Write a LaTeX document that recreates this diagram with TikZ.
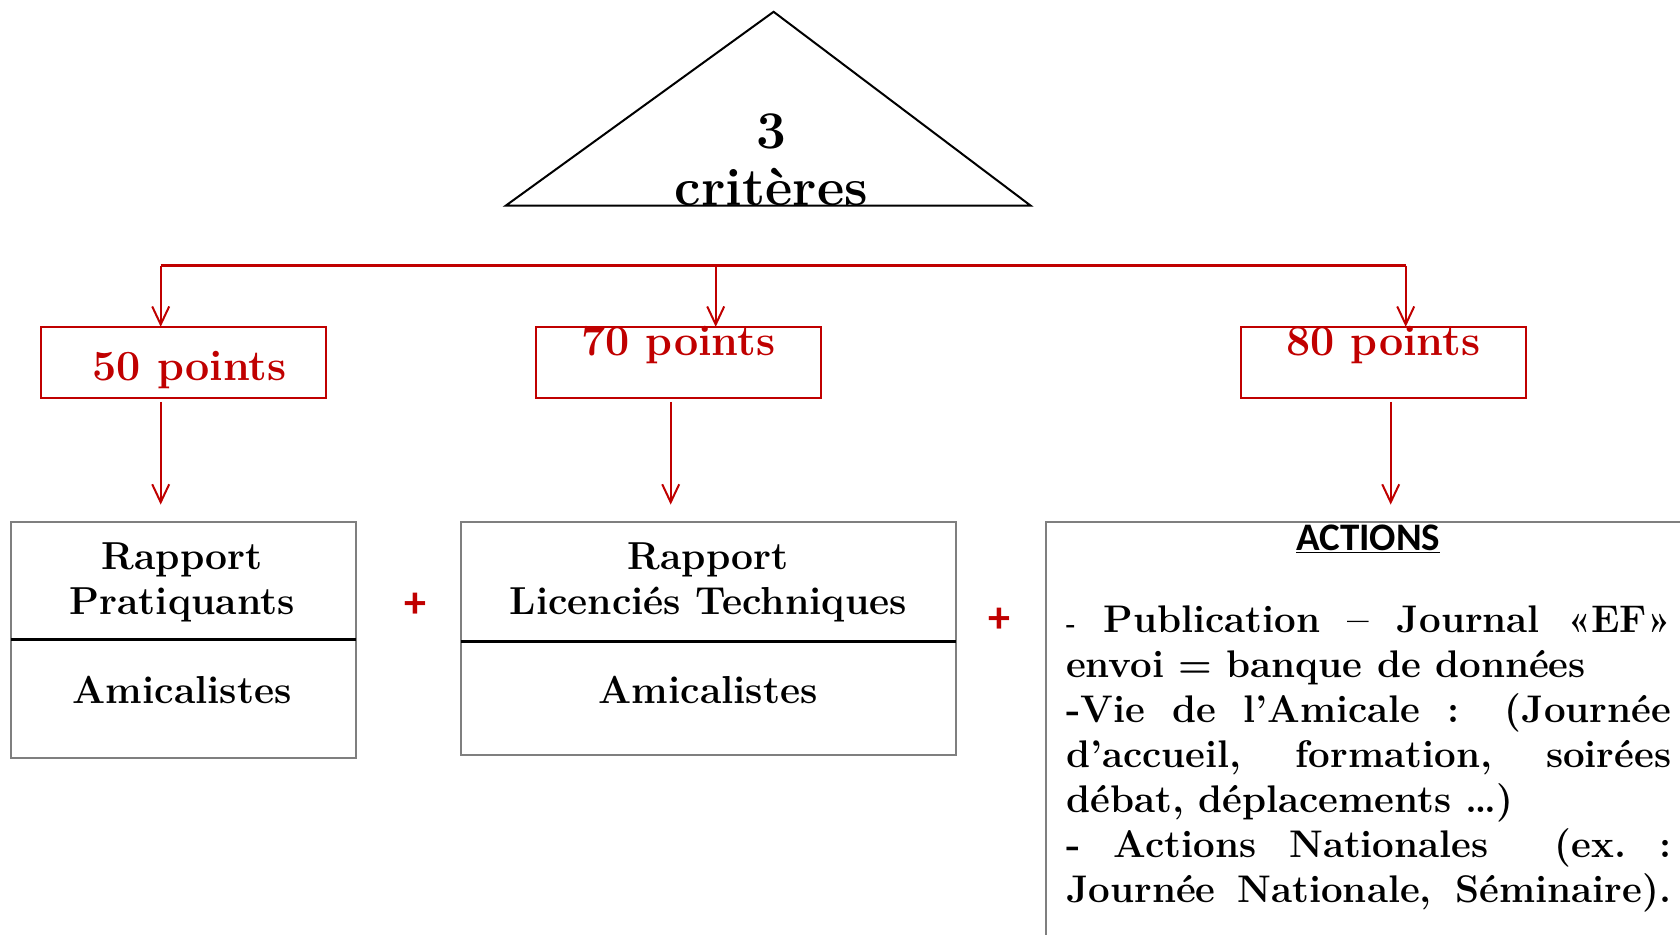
\documentclass[tikz,border=0pt]{standalone}
\usepackage{fontspec}
\newfontfamily\carlito{Carlito}
\usetikzlibrary{arrows.meta}
\definecolor{dred}{HTML}{C00000}
\definecolor{bgray}{HTML}{7F7F7F}
\begin{document}
\begin{tikzpicture}[x=1pt,y=-1pt,
  redbox/.style={draw=dred, line width=2pt, inner sep=0pt, outer sep=0pt, anchor=north west, minimum width=285pt, minimum height=70.7pt},
  redline/.style={draw=dred, line width=2.6pt},
  redarrow/.style={draw=dred, line width=2pt, -{Straight Barb[length=18pt,width=17pt,line width=2pt]}},
  graybox/.style={draw=bgray, line width=2pt, inner sep=0pt, outer sep=0pt, anchor=north west},
  divider/.style={draw=black, line width=3pt},
  pts/.style={anchor=base, text=dred, inner sep=0pt, font=\fontsize{43}{50}\selectfont\bfseries},
  boxtxt/.style={anchor=base, inner sep=0pt, font=\fontsize{39}{45}\selectfont\bfseries},
  acttxt/.style={anchor=base west, inner sep=0pt, font=\fontsize{38.5}{45}\selectfont\bfseries},
  plus/.style={anchor=base, inner sep=0pt, text=dred, font=\fontsize{44}{48}\selectfont\carlito\bfseries},
  tri/.style={draw=black, line width=2pt, line join=miter}
]
\useasboundingbox (0,0) rectangle (1680,934);

% triangle
\coordinate (tl) at (505.7,205.7);
\coordinate (ta) at (773.6,11.8);
\coordinate (tr) at (1030.7,205.7);
\draw[tri] (tl) -- (ta) -- (tr) -- cycle;
\node[anchor=base, inner sep=0pt, font=\fontsize{53}{59}\selectfont\bfseries] (three) at (771.4,148) {3};
\node[anchor=base, inner sep=0pt, font=\fontsize{53}{59}\selectfont\bfseries] (crit) at (771.4,205) {critères};

% red boxes
\node[redbox] (b50) at (40.7,326.8) {};
\node[redbox] (b70) at (535.7,326.8) {};
\node[redbox] (b80) at (1240.7,326.8) {};
\node[pts] (t50) at (189.6,380) {50 points};
\node[pts] (t70) at (678.2,355.7) {70 points};
\node[pts] (t80) at (1383.2,355.7) {80 points};

% red tree
\coordinate (h1) at (160.7,265.7);
\coordinate (h2) at (715.7,265.7);
\coordinate (h3) at (1405.7,265.7);
\draw[redline] (h1) -- (h3);
\draw[redarrow] (h1) -- (h1 |- b50.north);
\draw[redarrow] (h2) -- (h2 |- b70.north);
\draw[redarrow] (h3) -- (h3 |- b80.north);

% gray boxes
\node[graybox, minimum width=345pt, minimum height=235.7pt] (boxA) at (10.7,521.8) {};
\node[graybox, minimum width=495pt, minimum height=233.5pt] (boxB) at (460.7,521.8) {};
\begin{scope}
\clip (0,0) rectangle (1680,934);
\node[graybox, minimum width=700pt, minimum height=450pt] (boxC) at (1045.7,521.8) {};
\end{scope}

% arrows from red boxes to gray boxes
\coordinate (a1s) at (160.7,401.8);
\coordinate (a1e) at (160.7,504.6);
\coordinate (a2s) at (670.7,401.8);
\coordinate (a2e) at (670.7,504.6);
\coordinate (a3s) at (1390.7,401.8);
\coordinate (a3e) at (1390.7,504.6);
\draw[redarrow] (a1s) -- (a1e);
\draw[redarrow] (a2s) -- (a2e);
\draw[redarrow] (a3s) -- (a3e);

% dividers
\draw[divider] (boxA.west |- {(0,639.6)}) -- (boxA.east |- {(0,639.6)});
\draw[divider] (boxB.west |- {(0,641.8)}) -- (boxB.east |- {(0,641.8)});

% box texts
\node[boxtxt] (ra) at (182.1,569) {Rapport};
\node[boxtxt] (pa) at (182.1,614) {Pratiquants};
\node[boxtxt] (ama) at (182.1,703) {Amicalistes};
\node[boxtxt] (rb) at (708.2,569) {Rapport};
\node[boxtxt] (lb) at (708.2,614) {Licenciés Techniques};
\node[boxtxt] (amb) at (708.2,703) {Amicalistes};

% plus signs
\node[plus] (plus1) at (415.7,617) {+};
\node[plus] (plus2) at (999.6,632) {+};

% actions
\node[anchor=base, inner sep=0pt, font=\fontsize{39}{42}\selectfont\carlito\bfseries] (acth) at (1368.2,550.7) {\underline{ACTIONS}};
\node[acttxt] (l1) at (1066,632) {\hbox to 605pt{{\fontsize{26}{30}\selectfont -}\hfil Publication\hfil –\hfil Journal\hfil «EF»}};
\node[acttxt] (l2) at (1066,677) {\makebox[605pt][l]{envoi = banque de données}};
\node[acttxt] (l3) at (1066,722) {\makebox[605pt][s]{-Vie de l’Amicale : (Journée}};
\node[acttxt] (l4) at (1066,767) {\makebox[605pt][s]{d’accueil, formation, soirées}};
\node[acttxt] (l5) at (1066,812) {\makebox[605pt][l]{débat, déplacements …)}};
\node[acttxt] (l6) at (1066,857) {\hbox to 605pt{-\hfil Actions\hfil Nationales\hfil\hfil (ex.\hfil :}};
\node[acttxt] (l7) at (1066,902) {\makebox[605pt][s]{Journée Nationale, Séminaire).}};
\end{tikzpicture}
\end{document}
